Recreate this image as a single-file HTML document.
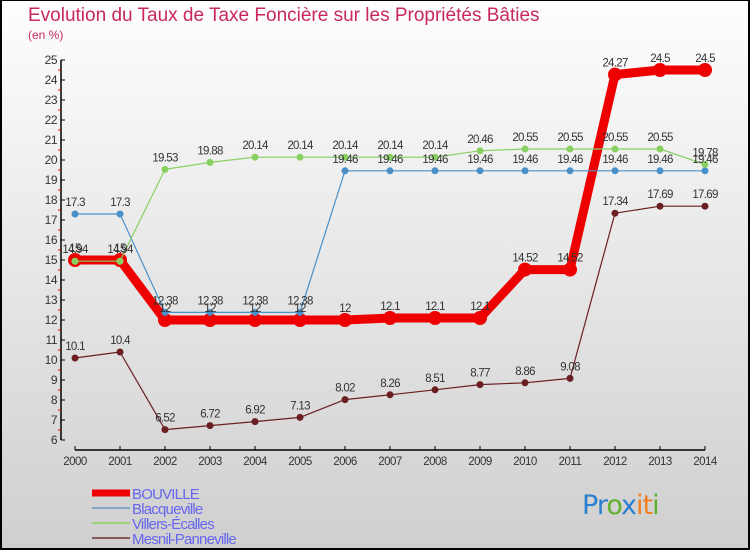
<!DOCTYPE html>
<html><head><meta charset="utf-8"><style>
body{margin:0}
#wrap{position:relative;width:750px;height:550px;box-sizing:border-box;border:2px solid #000;border-top:1px solid #000;background:linear-gradient(#fefefe,#cfcfcf);font-family:"Liberation Sans",sans-serif;overflow:hidden}
#title{position:absolute;left:26px;top:4px;font-size:19px;color:#c8285a}
#unit{position:absolute;left:26px;top:27px;font-size:12px;color:#c8285a}
</style></head><body>
<div id="wrap">
<div id="title">Evolution du Taux de Taxe Foncière sur les Propriétés Bâties</div>
<div id="unit">(en %)</div>
<svg id="svg" width="750" height="550" style="position:absolute;left:-2px;top:-1px"></svg>
</div>
<script>
const years=[2000,2001,2002,2003,2004,2005,2006,2007,2008,2009,2010,2011,2012,2013,2014];
const bouville=[15,15,12,12,12,12,12,12.1,12.1,12.1,14.52,14.52,24.27,24.5,24.5];
const blacqueville=[17.3,17.3,12.38,12.38,12.38,12.38,19.46,19.46,19.46,19.46,19.46,19.46,19.46,19.46,19.46];
const villers=[14.94,14.94,19.53,19.88,20.14,20.14,20.14,20.14,20.14,20.46,20.55,20.55,20.55,20.55,19.78];
const mesnil=[10.1,10.4,6.52,6.72,6.92,7.13,8.02,8.26,8.51,8.77,8.86,9.08,17.34,17.69,17.69];
const yTicks=[6,7,8,9,10,11,12,13,14,15,16,17,18,19,20,21,22,23,24,25];
const names=["BOUVILLE","Blacqueville","Villers-Écalles","Mesnil-Panneville"];
const NS="http://www.w3.org/2000/svg",svg=document.getElementById('svg');
const X=i=>75+i*45, Y=v=>440-(v-6)*20;
function el(t,a,p){const e=document.createElementNS(NS,t);for(const k in a)e.setAttribute(k,a[k]);(p||svg).appendChild(e);return e;}
// axes
let a=el('line',{x1:61,y1:Y(25),x2:61,y2:Y(6),stroke:'#000','stroke-width':1.5});

a=el('line',{x1:75,y1:450,x2:705,y2:450,stroke:'#000','stroke-width':1.5});

yTicks.forEach(v=>{
 el('line',{x1:61,y1:Y(v),x2:65,y2:Y(v),stroke:'#000'});
 if(v<25)el('line',{x1:58,y1:Y(v+0.5),x2:61,y2:Y(v+0.5),stroke:'#e00'});
 const t=el('text',{x:57,y:Y(v)+4,'text-anchor':'end','font-size':12,fill:'#333','letter-spacing':'-0.5'});t.textContent=v;
 
});
years.forEach((y,i)=>{
 el('line',{x1:X(i),y1:446,x2:X(i),y2:450,stroke:'#000'});
 const t=el('text',{x:X(i),y:465,'text-anchor':'middle','font-size':11.5,fill:'#333','letter-spacing':'-0.5'});t.textContent=y;
 
});
const series=[
 {d:mesnil,c:'#6b1f22',w:1.2,r:3.5,n:'mesnil-line'},
 {d:blacqueville,c:'#4a90c8',w:1.2,r:3.5,n:'blacqueville-line'},
 {d:villers,c:'#88d060',w:1.2,r:3.5,n:'villers-line'},
 {d:bouville,c:'#ee0000',w:9,r:7,n:'bouville-line'}];
const order=[3,1,2,0];
order.forEach(k=>{const s=series[k];
 const g=el('g',{});
 el('polyline',{points:s.d.map((v,i)=>X(i)+','+Y(v)).join(' '),fill:'none',stroke:s.c,'stroke-width':s.w,'stroke-linejoin':'round'},g);
 s.d.forEach((v,i)=>{const p=el('circle',{cx:X(i),cy:Y(v),r:s.r,fill:s.c},g);
  });
});
// green points over red
villers.slice(0,2).forEach((v,i)=>el('circle',{cx:X(i),cy:Y(v),r:3.5,fill:'#88d060'}));
[bouville,blacqueville,villers,mesnil].forEach(d=>d.forEach((v,i)=>{
 const t=el('text',{x:X(i),y:Y(v)-8,'text-anchor':'middle','font-size':11.5,fill:'#333','letter-spacing':'-0.7'});t.textContent=v;
 
}));
// legend
const lc=['#ee0000','#7fa6c6','#9ad27a','#8a5a5a'],lw=[7,2,2,2];
names.forEach((n,i)=>{const y=493+i*15;
 const g=el('g',{});
 el('line',{x1:92,y1:y,x2:130,y2:y,stroke:lc[i],'stroke-width':lw[i]},g);
 const t=el('text',{x:132,y:y+6,'font-size':15,fill:'#6666ee','letter-spacing':'-0.8'},g);t.textContent=n;});
const logo=el('text',{x:582,y:514,'font-size':27,'font-family':'"DejaVu Sans",sans-serif','letter-spacing':'-1'});

[['P','#2a7fd0'],['r','#2a7fd0'],['o','#60b030'],['x','#2a7fd0'],['i','#f08020'],['t','#f08020'],['i','#60b030']].forEach(([c,f])=>{const s=el('tspan',{fill:f},logo);s.textContent=c;});
</script>
</body></html>
